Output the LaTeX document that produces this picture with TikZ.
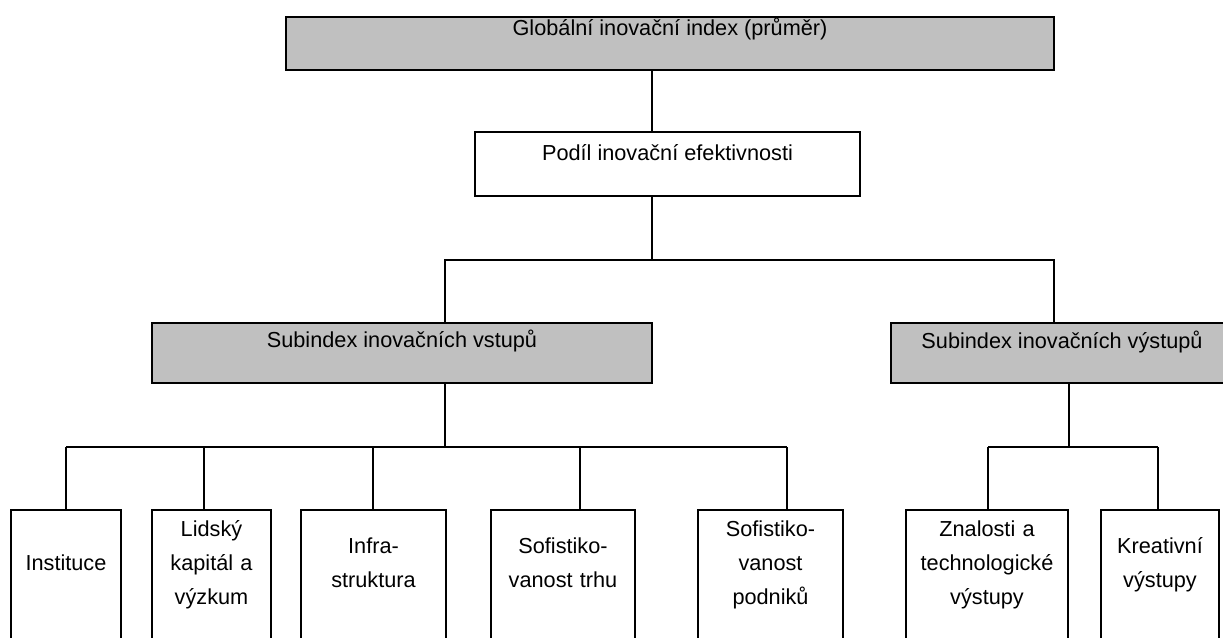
\documentclass[tikz,border=0pt]{standalone}
\usepackage{fontspec}
\setmainfont{Liberation Sans}
\definecolor{boxgray}{HTML}{C0C0C0}
\begin{document}
\begin{tikzpicture}[x=1pt,y=-1pt,
  box/.style={draw=black,line width=2pt,inner sep=0pt,outer sep=0pt,rectangle},
  graybox/.style={box,fill=boxgray,line width=2.4pt},
  whitebox/.style={box,fill=white},
  txt/.style={inner sep=0pt,outer sep=0pt,anchor=base,align=center,
    font=\fontsize{21.7}{34}\selectfont},
  conn/.style={draw=black,line width=2pt}]
\useasboundingbox (0,0) rectangle (1223,637);
\clip (0,0) rectangle (1223,637);
\fill[white] (0,0) rectangle (1223,637);
% boxes
\node[graybox,minimum width=768pt,minimum height=53pt] (gii) at (670,43.5) {};
\node[whitebox,minimum width=385pt,minimum height=64pt] (podil) at (667.5,164) {};
\node[graybox,minimum width=500pt,minimum height=60pt] (vstup) at (402,353) {};
\node[graybox,minimum width=342pt,minimum height=60pt] (vystup) at (1062,353) {};
\node[whitebox,minimum width=110pt,minimum height=150pt] (inst) at (66,585) {};
\node[whitebox,minimum width=119pt,minimum height=150pt] (lid) at (211.5,585) {};
\node[whitebox,minimum width=145pt,minimum height=150pt] (infra) at (373.5,585) {};
\node[whitebox,minimum width=144pt,minimum height=150pt] (trh) at (563,585) {};
\node[whitebox,minimum width=145pt,minimum height=150pt] (podn) at (770.5,585) {};
\node[whitebox,minimum width=162pt,minimum height=150pt] (znal) at (987,585) {};
\node[whitebox,minimum width=118pt,minimum height=150pt] (krea) at (1160,585) {};
% texts
\node[txt] (tgii) at (670,35) {Globální inovační index (průměr)};
\node[txt] (tpodil) at (667.5,160) {Podíl inovační efektivnosti};
\node[txt] (tvstup) at (402,347) {Subindex inovačních vstupů};
\node[txt] (tvystup) at (1062,348) {Subindex inovačních výstupů};
\node[txt,text width=110pt] (tinst) at (66,570) {Instituce};
\node[txt,text width=119pt] (tlid) at (211.5,536) {Lidský\\kapitál a\\výzkum};
\node[txt,text width=145pt] (tinfra) at (373.5,553) {Infra-\\struktura};
\node[txt,text width=144pt] (ttrh) at (563,553) {Sofistiko-\\vanost trhu};
\node[txt,text width=145pt] (tpodn) at (770.5,536) {Sofistiko-\\vanost\\podniků};
\node[txt,text width=162pt] (tznal) at (987,536) {Znalosti a\\technologické\\výstupy};
\node[txt,text width=118pt] (tkrea) at (1160,553) {Kreativní\\výstupy};
% junction coordinates
\coordinate (j0) at (652,260);
\coordinate (hl) at (445,260);
\coordinate (hr) at (1054,260);
\coordinate (bl) at (445,447);
\coordinate (c1) at (66,447);
\coordinate (c2) at (204,447);
\coordinate (c3) at (373,447);
\coordinate (c4) at (580,447);
\coordinate (c5) at (787,447);
\coordinate (br) at (1069,447);
\coordinate (d1) at (988,447);
\coordinate (d2) at (1158,447);
% connectors
\draw[conn] (gii.south -| j0) -- (podil.north -| j0);
\draw[conn] (podil.south -| j0) -- (j0);
\draw[conn] (vstup.north -| hl) -- (hl) -- (hr) -- (vystup.north -| hr);
\draw[conn] (vstup.south -| bl) -- (bl);
\draw[conn] (c1) -- (c5);
\draw[conn] (c1) -- (inst.north -| c1);
\draw[conn] (c2) -- (lid.north -| c2);
\draw[conn] (c3) -- (infra.north -| c3);
\draw[conn] (c4) -- (trh.north -| c4);
\draw[conn] (c5) -- (podn.north -| c5);
\draw[conn] (vystup.south -| br) -- (br);
\draw[conn] (d1) -- (d2);
\draw[conn] (d1) -- (znal.north -| d1);
\draw[conn] (d2) -- (krea.north -| d2);
\end{tikzpicture}
\end{document}
